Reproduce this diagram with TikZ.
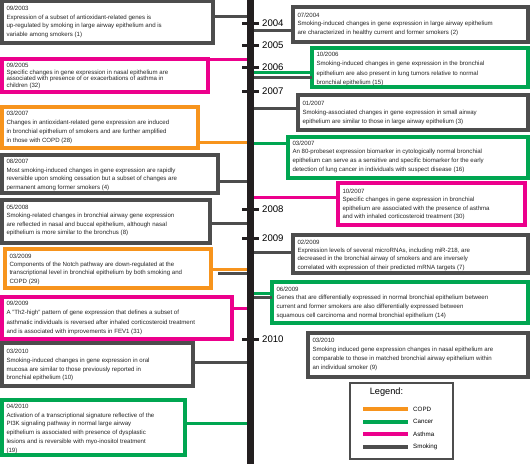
\documentclass[tikz,border=0pt]{standalone}
\usepackage{fontspec}
\setmainfont{Liberation Sans}
\definecolor{cgray}{HTML}{4D4D4D}
\definecolor{corange}{HTML}{F7941D}
\definecolor{cgreen}{HTML}{00A651}
\definecolor{cmag}{HTML}{EC008C}
\definecolor{barblack}{HTML}{231F20}
\tikzset{
  frame/.style={line width=3.4pt, fill=white, inner sep=0pt, outer sep=0pt},
  evtext/.style={inner sep=0pt, outer sep=0pt, align=left, text=black!85},
  conn/.style={line width=3pt},
  tick/.style={line width=3pt, draw=barblack},
  year/.style={font={\fontsize{9.6}{10}\selectfont}, inner sep=0pt, anchor=west},
  swatch/.style={line width=4pt},
  legtext/.style={font={\fontsize{6.2}{7}\selectfont}, inner sep=0pt, anchor=west}
}
% name, colour, x1, y1, x2, y2, text offset, line pitch, text
\newcommand\evbox[9]{%
  \node[frame, draw=#2, minimum width={(#5-#3)*1pt}, minimum height={(#6-#4)*1pt}, anchor=north west] (#1) at (#3,#4) {};
  \node[evtext, font={\fontsize{6.1}{#8}\selectfont}, anchor=north west] (#1t) at ([shift={(4.5pt,-#7pt)}]#1.north west) {#9};}
\begin{document}
\begin{tikzpicture}[x=1pt,y=-1pt]
\useasboundingbox (0,0) rectangle (532,464);
% timeline bar
\node[fill=barblack, minimum width=7pt, minimum height=464pt, anchor=north, inner sep=0pt, outer sep=0pt] (bar) at (250.5,0) {};
% ticks and years
\foreach \yr/\yy in {2004/23,2005/45,2006/67,2007/91,2008/209,2009/238,2010/339}{
  \draw[tick] (242,\yy) -- (259,\yy);
  \node[year] (y\yr) at (262,\yy) {\yr};
}
% left boxes
\evbox{b1}{cgray}{2}{1}{213}{43}{5}{8.6}{09/2003\\Expression of a subset of antioxidant-related genes is\\up-regulated by smoking in large airway epithelium and is\\variable among smokers (1)}
\evbox{b2}{cmag}{2}{59}{208}{92}{4}{6.7}{09/2005\\Specific changes in gene expression in nasal epithelium are\\associated with presence of or exacerbations of asthma in\\children (32)}
\evbox{b3}{corange}{2}{107}{198}{148}{4.2}{8.8}{03/2007\\Changes in antioxidant-related gene expression are induced\\in bronchial epithelium of smokers and are further amplified\\in those with COPD (28)}
\evbox{b4}{cgray}{2}{155}{218}{193}{4.2}{8.5}{08/2007\\Most smoking-induced changes in gene expression are rapidly\\reversible upon smoking cessation but a subset of changes are\\permanent among former smokers (4)}
\evbox{b5}{cgray}{2}{200}{210}{243}{5}{8.4}{05/2008\\Smoking-related changes in bronchial airway gene expression\\are reflected in nasal and buccal epithelium, although nasal\\epithelium is more similar to the bronchus (8)}
\evbox{b6}{corange}{5}{249}{211}{288}{5}{8.2}{03/2009\\Components of the Notch pathway are down-regulated at the\\transcriptional level in bronchial epithelium by both smoking and\\COPD (29)}
\evbox{b7}{cmag}{2}{297}{232}{339}{4.2}{9.2}{09/2009\\A "Th2-high" pattern of gene expression that defines a subset of\\asthmatic individuals is reversed after inhaled corticosteroid treatment\\and is associated with improvements in FEV1 (31)}
\evbox{b8}{cgray}{2}{343}{193}{386}{6.2}{8.7}{03/2010\\Smoking-induced changes in gene expression in oral\\mucosa are similar to those previously reported in\\bronchial epithelium (10)}
\evbox{b9}{cgreen}{2}{400}{185}{455}{3.8}{8.8}{04/2010\\Activation of a transcriptional signature reflective of the\\PI3K signaling pathway in normal large airway\\epithelium is associated with presence of dysplastic\\lesions and is reversible with myo-inositol treatment\\(19)}
% right boxes
\evbox{r1}{cgray}{293}{7}{528}{42}{5.6}{8.8}{07/2004\\Smoking-induced changes in gene expression in large airway epithelium\\are characterized in healthy current and former smokers (2)}
\evbox{r2}{cgreen}{312}{48}{528}{87}{4.4}{9.1}{10/2006\\Smoking-induced changes in gene expression in the bronchial\\epithelium are also present in lung tumors relative to normal\\bronchial epithelium (15)}
\evbox{r3}{cgray}{298}{95}{528}{130}{5.6}{9.1}{01/2007\\Smoking-associated changes in gene expression in small airway\\epithelium are similar to those in large airway epithelium (3)}
\evbox{r4}{cgreen}{288}{137}{528}{178}{3.8}{8.6}{03/2007\\An 80-probeset expression biomarker in cytologically normal bronchial\\epithelium can serve as a sensitive and specific biomarker for the early\\detection of lung cancer in individuals with suspect disease (16)}
\evbox{r5}{cmag}{338}{183}{525}{225}{5.6}{8.6}{10/2007\\Specific changes in gene expression in bronchial\\epithelium are associated with the presence of asthma\\and with inhaled corticosteroid treatment (30)}
\evbox{r6}{cgray}{293}{235}{528}{273}{4.6}{8.4}{02/2009\\Expression levels of several microRNAs, including miR-218, are\\decreased in the bronchial airway of smokers and are inversely\\correlated with expression of their predicted mRNA targets (7)}
\evbox{r7}{cgreen}{272}{282}{528}{323}{4.6}{8.8}{06/2009\\Genes that are differentially expressed in normal bronchial epithelium between\\current and former smokers are also differentially expressed between\\squamous cell carcinoma and normal bronchial epithelium (14)}
\evbox{r8}{cgray}{308}{333}{528}{377}{4.8}{9}{03/2010\\Smoking induced gene expression changes in nasal epithelium are\\comparable to those in matched bronchial airway epithelium within\\an individual smoker (9)}
% connectors left
\draw[conn, cgray] (b1.east |- 0,16) -- (bar.west |- 0,16);
\draw[conn, cmag] (b2.north east) -- (bar.west |- b2.north east);
\draw[conn, corange] (b3.east |- 0,142) -- (bar.west |- 0,142);
\draw[conn, cgray] (b4.east |- 0,181) -- (bar.west |- 0,181);
\draw[conn, cgray] (b5.east |- 0,223) -- (bar.west |- 0,223);
\draw[conn, corange] (b6.east |- 0,269) -- (bar.west |- 0,269);
\coordinate (g6) at (218,273);
\draw[conn, cgray] (g6) -- (bar.west |- g6);
\draw[conn, cmag] (b7.east |- 0,308) -- (bar.west |- 0,308);
\draw[conn, cgray] (b8.east |- 0,362) -- (bar.west |- 0,362);
\draw[conn, cgreen] (b9.east |- 0,423) -- (bar.west |- 0,423);
% connectors right
\draw[conn, cgray] (bar.east |- 0,30) -- (r1.west |- 0,30);
\draw[conn, cgreen] (bar.east |- 0,72) -- (r2.west |- 0,72);
\draw[conn, cgray] (bar.east |- 0,77) -- (r2.west |- 0,77);
\draw[conn, cgray] (bar.east |- 0,108) -- (r3.west |- 0,108);
\draw[conn, cgreen] (bar.east |- 0,143) -- (r4.west |- 0,143);
\draw[conn, cmag] (bar.east |- 0,197) -- (r5.west |- 0,197);
\draw[conn, cgray] (bar.east |- 0,252) -- (r6.west |- 0,252);
\draw[conn, cgreen] (bar.east |- 0,293) -- (r7.west |- 0,293);
\draw[conn, cgray] (bar.east |- 0,297.5) -- (r7.west |- 0,297.5);
% legend
\node[draw=cgray, line width=1.8pt, fill=white, minimum width=103pt, minimum height=76pt, anchor=north west, inner sep=0pt, outer sep=0pt] (leg) at (350,383) {};
\node[font={\fontsize{9.2}{10}\selectfont}, inner sep=0pt] (legtitle) at (386.5,392) {Legend:};
\foreach \lab/\col/\yy in {COPD/corange/409,Cancer/cgreen/421.5,Asthma/cmag/434,Smoking/cgray/446.5}{
  \draw[swatch, \col] (363,\yy) -- (408,\yy);
  \node[legtext] (l\lab) at (413,\yy) {\lab};
}
\end{tikzpicture}
\end{document}
